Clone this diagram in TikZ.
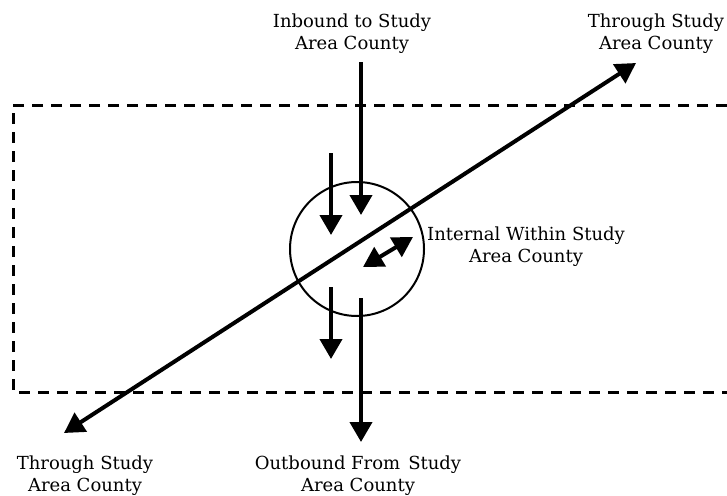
\documentclass[tikz,border=0pt]{standalone}
\usepackage{fontspec}
\setmainfont{DejaVu Serif}
\usepackage{tikz}
\usetikzlibrary{arrows.meta,positioning}

\begin{document}
\begin{tikzpicture}[x=1pt,y=-1pt,font=\fontsize{18}{22}\selectfont,
   lbl/.style={align=center,inner sep=0pt},
   zone/.style={draw,circle,line width=2pt,minimum size=134pt,inner sep=0pt},
   dsh/.style={line width=3pt,dash pattern=on 11pt off 8pt},
   fl/.style={-{Triangle[length=20pt,width=22pt]},line width=4pt},
   bfl/.style={{Triangle[length=20pt,width=22pt]}-{Triangle[length=20pt,width=22pt]},line width=4pt}]
  \useasboundingbox (0,0) rectangle (727,495);
  % study area boundary (open to the right)
  \draw[dsh] (727,105) -| (13,392) -- (727,392);
  \node[zone] (cty) at (357,249) {};
  % end points of the flows
  \coordinate (thA) at (64,433);  \coordinate (thB) at (636,63);
  \coordinate (inA) at (361,62);  \coordinate (inB) at (361,215);
  \coordinate (inC) at (331,153); \coordinate (inD) at (331,235);
  \coordinate (ouA) at (361,298); \coordinate (ouB) at (361,442);
  \coordinate (ouC) at (331,287); \coordinate (ouD) at (331,359);
  \coordinate (itA) at (363,267); \coordinate (itB) at (413,237);
  \draw[bfl] (thA)--(thB);
  \draw[fl] (inA)--(inB); \draw[fl] (inC)--(inD);
  \draw[fl] (ouA)--(ouB); \draw[fl] (ouC)--(ouD);
  \draw[bfl] (itA)--(itB);
  \node[lbl] (inl) at (352,34) {Inbound to Study\\Area County};
  \node[lbl] (trl) at (656,34) {Through Study\\Area County};
  \node[lbl] (itl) at (526,247) {Internal Within Study\\Area County};
  \node[lbl] (tll) at (85,476) {Through Study\\Area County};
  \node[lbl] (oul) at (358,476) {Outbound From\hspace{8pt}Study\\Area County};
\end{tikzpicture}
\end{document}
